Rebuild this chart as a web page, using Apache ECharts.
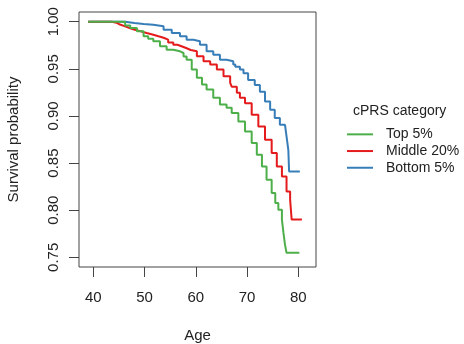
<!DOCTYPE html>
<html><head><meta charset="utf-8">
<script src="https://cdn.jsdelivr.net/npm/echarts@6/dist/echarts.min.js"></script>
<style>html,body{margin:0;padding:0;background:#fff}#c{width:464px;height:344px}</style>
</head><body><div id="c"></div>
<script>
const xTicks = [40, 50, 60, 70, 80];
const yTicks = [0.75, 0.80, 0.85, 0.90, 0.95, 1.00];
const groupNames = ['Top 5%', 'Middle 20%', 'Bottom 5%'];

const topAge = [39.0,45.2,46.2,47.2,48.5,49.8,50.7,51.7,53.0,54.3,55.6,56.9,57.6,58.2,59.2,60.2,61.2,62.1,63.4,64.7,66.0,67.0,68.3,69.6,70.9,71.9,72.9,73.8,74.8,75.5,76.1,76.8,77.1,77.4,77.7,80.2];
const topSurv = [1.000,1.000,0.996,0.9933,0.9898,0.9845,0.982,0.9792,0.9739,0.9703,0.9686,0.9668,0.963,0.9597,0.9492,0.9404,0.9333,0.9280,0.9192,0.9121,0.9086,0.9030,0.8941,0.8835,0.8712,0.8588,0.8464,0.8323,0.8182,0.8076,0.8005,0.7900,0.7758,0.7635,0.7547,0.7547];

const midAge = [39.0,43.6,44.5,45.2,46.2,47.2,48.1,49.1,50.4,51.7,52.7,53.7,54.6,55.6,56.4,57.2,58.1,59.0,60.2,61.5,62.8,64.1,65.4,66.7,67.0,68.0,68.6,69.6,70.9,72.2,73.5,74.8,75.8,76.8,77.7,78.4,78.7,80.7];
const midSurv = [1.000,0.999,0.997,0.9951,0.993,0.9915,0.990,0.9880,0.9862,0.9845,0.983,0.9809,0.978,0.9756,0.974,0.9721,0.970,0.9686,0.9633,0.9581,0.9545,0.9492,0.9422,0.9351,0.9311,0.9245,0.9192,0.9136,0.9012,0.8888,0.8747,0.8606,0.8464,0.8358,0.8199,0.8111,0.7900,0.7900];

const botAge = [39.0,45.8,46.2,48.0,49.8,51.7,53.7,55.3,56.9,58.2,59.5,60.8,62.1,63.4,64.7,66.0,67.3,67.7,68.6,69.3,70.2,71.5,72.5,73.5,74.5,75.4,76.4,77.4,77.7,78.05,78.2,80.3];
const botSurv = [1.000,1.000,0.9986,0.9975,0.9968,0.9951,0.9915,0.9880,0.9845,0.9809,0.9792,0.9756,0.9686,0.9650,0.9597,0.9580,0.9545,0.9523,0.9492,0.9453,0.9382,0.9329,0.9258,0.9153,0.9065,0.8977,0.8906,0.8888,0.8782,0.8641,0.8411,0.8411];

const colors = {'Top 5%':'#4DAF4A','Middle 20%':'#E41A1C','Bottom 5%':'#377EB8'};
const pairs = (a, s) => a.map((v, i) => [v, s[i]]);
const FONT = 'Liberation Sans, Arial, sans-serif';

const mk = (name, a, s) => ({
  name, type: 'line', step: 'end', data: pairs(a, s), showSymbol: false, symbol: 'none',
  lineStyle: {color: colors[name], width: 2}, itemStyle: {color: colors[name]}, animation: false
});

const chart = echarts.init(document.getElementById('c'), null, {renderer: 'canvas'});
chart.setOption({
  animation: false,
  textStyle: {fontFamily: FONT},
  grid: {left: 79, top: 12, right: 148, bottom: 77, show: true, borderColor: '#444', borderWidth: 1,
    backgroundColor: 'transparent', containLabel: false, outerBoundsMode: 'none'},
  title: {text: 'cPRS category', left: 348, top: 99,
    textStyle: {fontFamily: FONT, fontSize: 14, fontWeight: 'normal', color: '#222'}},
  legend: {
    data: groupNames, orient: 'vertical', left: 342, top: 121,
    icon: 'rect', itemWidth: 26, itemHeight: 2, itemGap: 0,
    textStyle: {fontFamily: FONT, fontSize: 14, color: '#222', lineHeight: 16.7, padding: [0,0,0,8]}
  },
  xAxis: {
    type: 'value', min: 37.2, max: 83.45,
    name: 'Age', nameLocation: 'middle', nameGap: 61,
    nameTextStyle: {fontFamily: FONT, fontSize: 15, color: '#222'},
    axisLine: {show: false},
    axisTick: {show: true, length: 10, customValues: xTicks, lineStyle: {color: '#444'}},
    axisLabel: {customValues: xTicks, margin: 23, fontSize: 15, color: '#222', fontFamily: FONT},
    splitLine: {show: false}
  },
  yAxis: {
    type: 'value', min: 0.7397, max: 1.0103,
    name: 'Survival probability', nameLocation: 'middle', nameGap: 58, nameRotate: 90,
    nameTextStyle: {fontFamily: FONT, fontSize: 15, color: '#222'},
    axisLine: {show: false},
    axisTick: {show: true, length: 10, customValues: yTicks, lineStyle: {color: '#444'}},
    axisLabel: {customValues: yTicks, rotate: 90, margin: 18, fontSize: 15, color: '#222', fontFamily: FONT,
      formatter: v => v.toFixed(2)},
    splitLine: {show: false}
  },
  series: [
    mk('Bottom 5%', botAge, botSurv),
    mk('Middle 20%', midAge, midSurv),
    mk('Top 5%', topAge, topSurv)
  ]
});
</script></body></html>
